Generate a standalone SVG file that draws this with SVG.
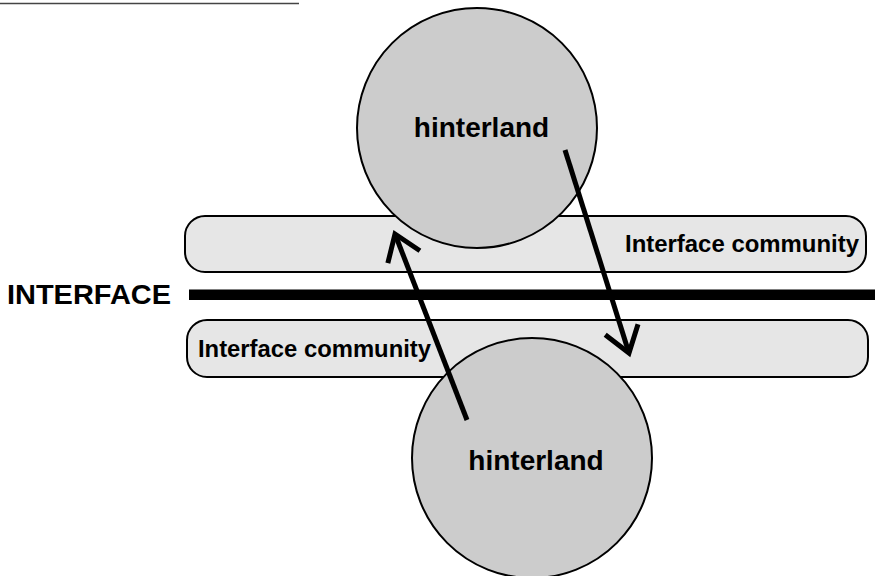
<svg xmlns="http://www.w3.org/2000/svg" width="875" height="576" viewBox="0 0 875 576">
  <style>
    .lbl { font-family: "Liberation Sans", Arial, sans-serif; font-weight: bold; fill: #000; }
    .band { fill: #e6e6e6; stroke: #000; stroke-width: 2; }
    .hinter { fill: #cccccc; stroke: #000; stroke-width: 2; }
    .arrow { fill: none; stroke: #000; stroke-width: 5; marker-end: url(#openhead); }
  </style>
  <defs>
    <marker id="openhead" markerUnits="userSpaceOnUse" markerWidth="60" markerHeight="60" viewBox="-40 -30 60 60" refX="0" refY="0" orient="auto" overflow="visible">
      <path d="M-24.6,-17.2 L0,0 L-24.6,17.2" fill="none" stroke="#000" stroke-width="5" stroke-linejoin="miter"/>
    </marker>
  </defs>
  <rect width="875" height="576" fill="#fff"/>
  <line x1="0" y1="3.5" x2="299" y2="3.5" stroke="#444" stroke-width="1.4"/>

  <g id="interface">
    <text class="lbl" x="7" y="304" font-size="28.5" textLength="164" lengthAdjust="spacingAndGlyphs">INTERFACE</text>
    <rect x="189" y="289.5" width="686" height="10.5" fill="#000"/>
  </g>

  <g id="community-upper">
    <rect class="band" x="185" y="216" width="681" height="56" rx="20" ry="20"/>
    <text class="lbl" x="625" y="252" font-size="24" textLength="234" lengthAdjust="spacingAndGlyphs">Interface community</text>
  </g>

  <g id="community-lower">
    <rect class="band" x="187" y="320" width="681" height="57" rx="20" ry="20"/>
    <text class="lbl" x="198" y="357" font-size="24" textLength="233" lengthAdjust="spacingAndGlyphs">Interface community</text>
  </g>

  <g id="hinterland-top">
    <circle class="hinter" cx="477" cy="128" r="120"/>
    <text class="lbl" x="481.5" y="137" font-size="28" text-anchor="middle">hinterland</text>
  </g>

  <g id="hinterland-bottom">
    <circle class="hinter" cx="532" cy="458" r="120"/>
    <text class="lbl" x="536" y="470" font-size="28" text-anchor="middle">hinterland</text>
  </g>

  <g id="connectors">
    <line class="arrow" x1="467" y1="420" x2="395" y2="234"/>
    <line class="arrow" x1="565" y1="150" x2="629" y2="353"/>
  </g>
</svg>
